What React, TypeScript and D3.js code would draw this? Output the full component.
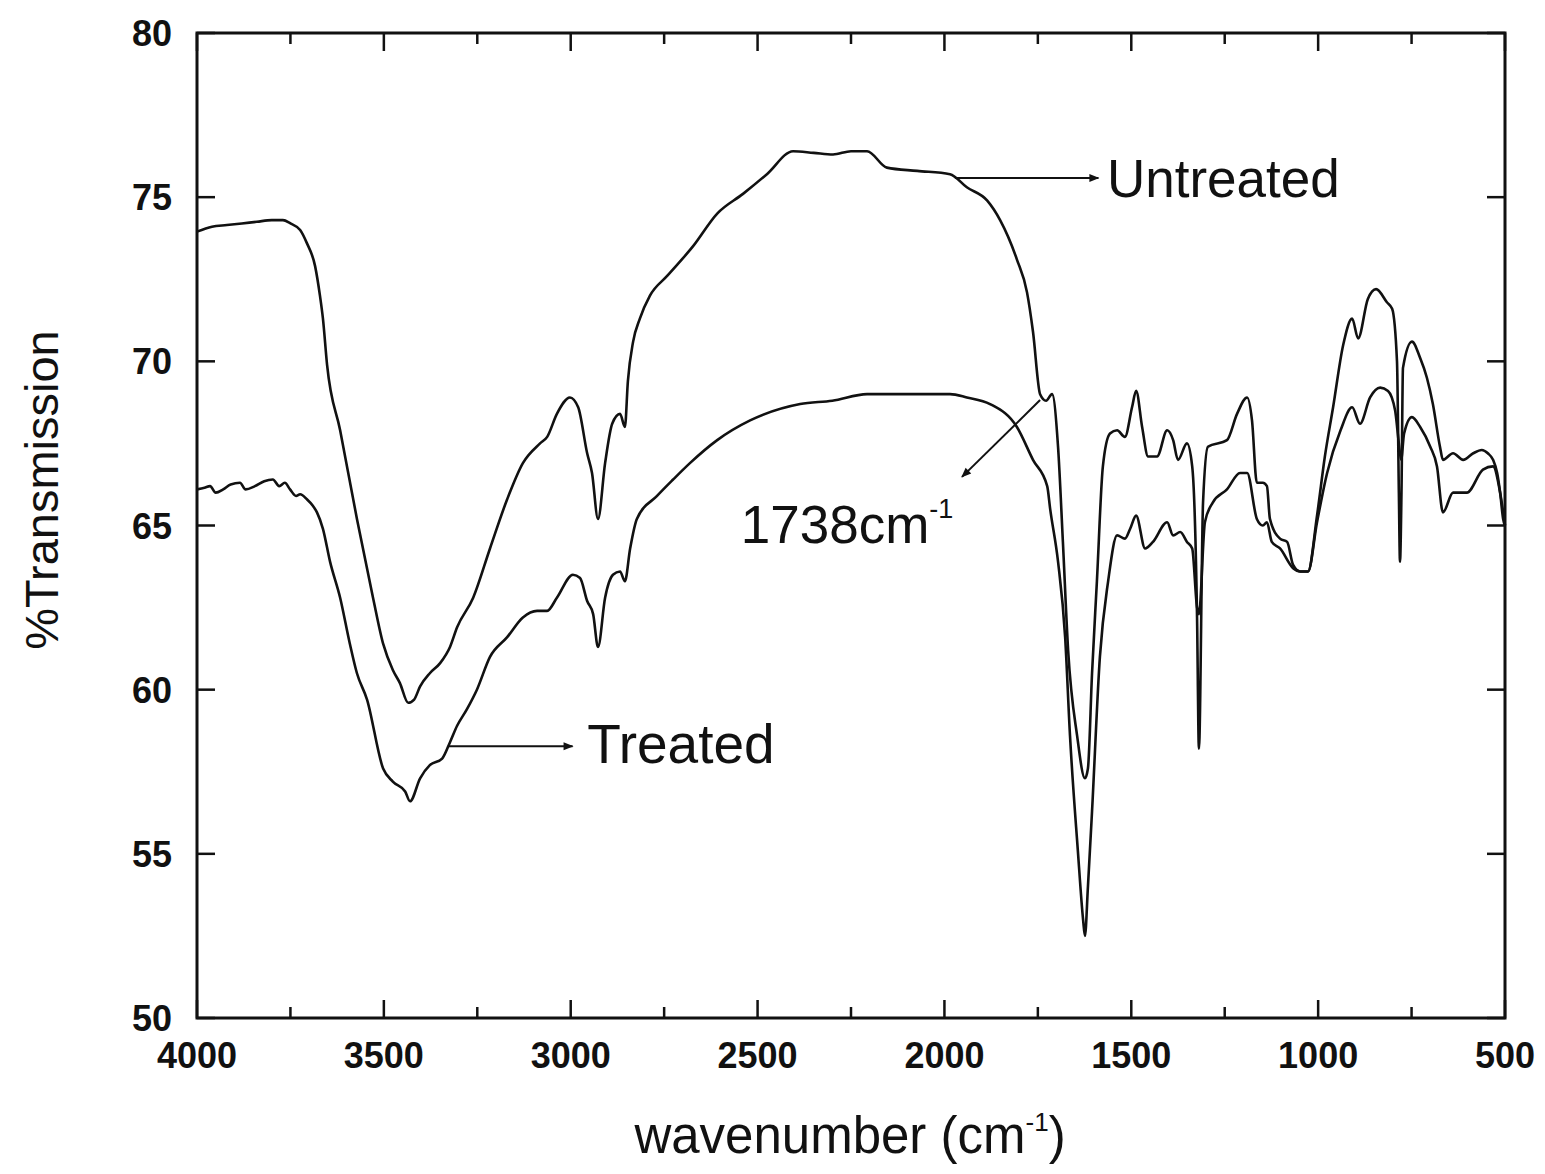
import React from "react";
import * as d3 from "d3";

// FTIR spectra: [wavenumber cm-1, % transmission]
const untreated: [number, number][] = [
  [4000, 73.95], [3960, 74.1], [3920, 74.15], [3880, 74.2], [3840, 74.25], [3800, 74.3], [3770, 74.3],
  [3750, 74.2], [3724, 74.0], [3706, 73.6], [3684, 72.9], [3671, 72.0], [3663, 71.3], [3652, 69.9],
  [3617, 67.9], [3572, 65.2], [3529, 62.8], [3502, 61.4], [3476, 60.6], [3457, 60.2], [3435, 59.6],
  [3419, 59.7], [3403, 60.1], [3377, 60.5], [3350, 60.8], [3323, 61.3], [3304, 61.9], [3261, 62.8],
  [3216, 64.3], [3170, 65.8], [3128, 66.9], [3082, 67.5], [3063, 67.7], [3037, 68.4], [3002, 68.9],
  [2980, 68.6], [2956, 67.2], [2943, 66.6], [2927, 65.2], [2908, 66.9], [2889, 68.1], [2868, 68.4],
  [2855, 68.0], [2847, 69.4], [2833, 70.6], [2815, 71.3], [2788, 72.0], [2742, 72.6], [2673, 73.5],
  [2608, 74.5], [2539, 75.1], [2475, 75.7], [2405, 76.4], [2350, 76.35], [2298, 76.3], [2250, 76.4],
  [2207, 76.4], [2154, 75.9], [2073, 75.8], [1985, 75.7], [1940, 75.3], [1886, 74.9], [1851, 74.3],
  [1806, 73.1], [1779, 72.1], [1763, 70.9], [1744, 69.0], [1728, 68.8], [1712, 69.0], [1696, 67.4],
  [1683, 64.5], [1669, 61.2], [1645, 58.6], [1624, 57.3], [1616, 57.6], [1605, 60.5], [1592, 63.3],
  [1576, 66.8], [1557, 67.8], [1538, 67.9], [1517, 67.7], [1498, 68.6], [1487, 69.1], [1471, 68.0],
  [1455, 67.1], [1431, 67.1], [1404, 67.9], [1388, 67.6], [1375, 67.0], [1351, 67.5], [1337, 66.8],
  [1324, 62.2], [1319, 58.2], [1308, 65.7], [1295, 67.4], [1244, 67.6], [1217, 68.4], [1190, 68.9],
  [1177, 68.2], [1164, 66.3], [1148, 66.3], [1137, 66.2], [1129, 65.2], [1102, 64.6], [1083, 64.5],
  [1067, 63.8], [1048, 63.6], [1027, 63.6], [1003, 65.3], [982, 67.1], [960, 68.6], [933, 70.5],
  [909, 71.3], [893, 70.7], [867, 71.9], [845, 72.2], [816, 71.8], [802, 71.6], [789, 70.0],
  [784, 66.0], [781, 63.9], [777, 66.0], [773, 69.8], [749, 70.6], [727, 70.1], [709, 69.5],
  [693, 68.7], [674, 67.4], [666, 67.0], [639, 67.2], [612, 67.0], [585, 67.2], [562, 67.3],
  [546, 67.2], [532, 67.0], [521, 66.6], [513, 66.0], [505, 65.2], [500, 65.0],
];

const treated: [number, number][] = [
  [4000, 66.1], [3980, 66.15], [3965, 66.2], [3950, 66.0], [3930, 66.1], [3910, 66.25], [3885, 66.3],
  [3870, 66.1], [3845, 66.2], [3820, 66.35], [3797, 66.4], [3780, 66.2], [3765, 66.3], [3751, 66.1],
  [3735, 65.9], [3724, 65.95], [3706, 65.8], [3690, 65.6], [3679, 65.4], [3663, 64.9], [3644, 63.9],
  [3617, 62.8], [3591, 61.4], [3572, 60.5], [3545, 59.7], [3502, 57.6], [3476, 57.2], [3443, 56.9],
  [3430, 56.6], [3403, 57.3], [3377, 57.7], [3344, 57.9], [3323, 58.4], [3304, 58.9], [3278, 59.4],
  [3251, 60.0], [3216, 61.0], [3170, 61.6], [3128, 62.2], [3090, 62.4], [3063, 62.4], [3037, 62.8],
  [2994, 63.5], [2975, 63.4], [2956, 62.7], [2940, 62.3], [2927, 61.3], [2908, 62.8], [2887, 63.5],
  [2868, 63.6], [2855, 63.3], [2841, 64.3], [2823, 65.2], [2769, 65.9], [2726, 66.4], [2681, 66.9],
  [2608, 67.6], [2520, 68.2], [2386, 68.7], [2300, 68.8], [2207, 69.0], [2100, 69.0], [1985, 69.0],
  [1940, 68.9], [1878, 68.7], [1806, 68.0], [1763, 67.0], [1725, 66.2], [1717, 65.5], [1696, 63.9],
  [1677, 61.6], [1664, 58.6], [1643, 55.1], [1629, 53.0], [1624, 52.5], [1616, 54.0], [1605, 56.3],
  [1584, 61.0], [1562, 63.3], [1538, 64.7], [1517, 64.6], [1503, 64.9], [1487, 65.3], [1463, 64.3],
  [1442, 64.5], [1404, 65.1], [1388, 64.7], [1369, 64.8], [1351, 64.5], [1337, 64.3], [1324, 62.5],
  [1319, 62.3], [1303, 65.1], [1282, 65.7], [1244, 66.1], [1209, 66.6], [1190, 66.6], [1164, 65.2],
  [1148, 65.0], [1137, 65.1], [1124, 64.5], [1102, 64.3], [1067, 63.7], [1048, 63.6], [1027, 63.6],
  [1003, 65.1], [976, 66.6], [940, 67.9], [909, 68.6], [888, 68.1], [861, 68.9], [834, 69.2],
  [813, 69.1], [794, 68.5], [784, 67.5], [778, 67.0], [770, 67.8], [749, 68.3], [727, 68.0],
  [700, 67.4], [682, 66.8], [666, 65.4], [639, 66.0], [602, 66.0], [559, 66.7], [532, 66.8],
  [513, 66.0], [500, 65.0],
];

const xMajorTicks = [4000, 3500, 3000, 2500, 2000, 1500, 1000, 500];
const xMinorTicks = [3750, 3250, 2750, 2250, 1750, 1250, 750];
const yTicks = [50, 55, 60, 65, 70, 75, 80];

// annotation anchors in data units: [wavenumber, %T]
const untreatedArrow: [number, number][] = [[1972, 75.58], [1588, 75.58]];
const untreatedLabelAt: [number, number] = [1565, 75.0];
const treatedArrow: [number, number][] = [[3328, 58.28], [2995, 58.28]];
const treatedLabelAt: [number, number] = [2956, 57.76];
const peakArrow: [number, number][] = [[1744, 68.82], [1953, 66.48]];
const peakLabelAt: [number, number] = [2545, 64.47];

export default function App() {
  const width = 1545;
  const height = 1174;
  const left = 197, right = 1505, top = 33, bottom = 1018;

  const x = d3.scaleLinear().domain([4000, 500]).range([left, right]);
  const y = d3.scaleLinear().domain([50, 80]).range([bottom, top]);

  const spectrum = d3
    .line<[number, number]>()
    .x((d) => x(d[0]))
    .y((d) => y(d[1]))
    .curve(d3.curveMonotoneX);

  const straight = d3
    .line<[number, number]>()
    .x((d) => x(d[0]))
    .y((d) => y(d[1]));

  const font = "'Liberation Sans', Arial, Helvetica, sans-serif";
  const major = 18;
  const minor = 11;

  return (
    <div style={{ position: "absolute", left: 0, top: 0 }}>
      <svg width={width} height={height} style={{ display: "block", background: "#fff" }}>
        <defs>
          <marker id="arrowHead" viewBox="0 0 10 10" refX="9" refY="5" markerWidth="6" markerHeight="5"
            markerUnits="strokeWidth" orient="auto">
            <path d="M0,1 L10,5 L0,9 Z" fill="#111" />
          </marker>
        </defs>

        {/* spectra */}
        <path d={spectrum(untreated) || ""} fill="none" stroke="#111" strokeWidth={2.6} strokeLinejoin="round" />
        <path d={spectrum(treated) || ""} fill="none" stroke="#111" strokeWidth={2.6} strokeLinejoin="round" />

        {/* frame */}
        <rect x={left} y={top} width={right - left} height={bottom - top} fill="none" stroke="#111" strokeWidth={3} />

        {/* x ticks, bottom and top, pointing inward */}
        {xMajorTicks.map((t) => (
          <g key={"xM" + t}>
            <line x1={x(t)} x2={x(t)} y1={bottom} y2={bottom - major} stroke="#111" strokeWidth={2.5} />
            <line x1={x(t)} x2={x(t)} y1={top} y2={top + major} stroke="#111" strokeWidth={2.5} />
            <text x={x(t)} y={bottom + 50} textAnchor="middle" fontFamily={font} fontWeight="bold"
              fontSize={36} fill="#111">{t}</text>
          </g>
        ))}
        {xMinorTicks.map((t) => (
          <g key={"xm" + t}>
            <line x1={x(t)} x2={x(t)} y1={bottom} y2={bottom - minor} stroke="#111" strokeWidth={2.5} />
            <line x1={x(t)} x2={x(t)} y1={top} y2={top + minor} stroke="#111" strokeWidth={2.5} />
          </g>
        ))}

        {/* y ticks, left and right */}
        {yTicks.map((t) => (
          <g key={"y" + t}>
            <line x1={left} x2={left + major} y1={y(t)} y2={y(t)} stroke="#111" strokeWidth={2.5} />
            <line x1={right} x2={right - major} y1={y(t)} y2={y(t)} stroke="#111" strokeWidth={2.5} />
            <text x={left - 25} y={y(t) + 13} textAnchor="end" fontFamily={font} fontWeight="bold"
              fontSize={36} fill="#111">{t}</text>
          </g>
        ))}

        {/* axis titles */}
        <text x={850} y={1153} textAnchor="middle" fontFamily={font} fontSize={51} fill="#111">
          wavenumber (cm<tspan dy={-22} fontSize={26}>-1</tspan><tspan dy={22}>)</tspan>
        </text>
        <text transform="translate(58, 490) rotate(-90)" textAnchor="middle" fontFamily={font} fontSize={47} fill="#111">
          %Transmission
        </text>

        {/* annotations */}
        <path d={straight(untreatedArrow) || ""} stroke="#111" strokeWidth={2} markerEnd="url(#arrowHead)" />
        <text x={x(untreatedLabelAt[0])} y={y(untreatedLabelAt[1])} fontFamily={font} fontSize={53} fill="#111">
          Untreated
        </text>

        <path d={straight(treatedArrow) || ""} stroke="#111" strokeWidth={2} markerEnd="url(#arrowHead)" />
        <text x={x(treatedLabelAt[0])} y={y(treatedLabelAt[1])} fontFamily={font} fontSize={55} fill="#111">
          Treated
        </text>

        <path d={straight(peakArrow) || ""} stroke="#111" strokeWidth={2} markerEnd="url(#arrowHead)" />
        <text x={x(peakLabelAt[0])} y={y(peakLabelAt[1])} fontFamily={font} fontSize={53} fill="#111">
          1738cm<tspan dy={-25} fontSize={27}>-1</tspan>
        </text>
      </svg>
    </div>
  );
}
